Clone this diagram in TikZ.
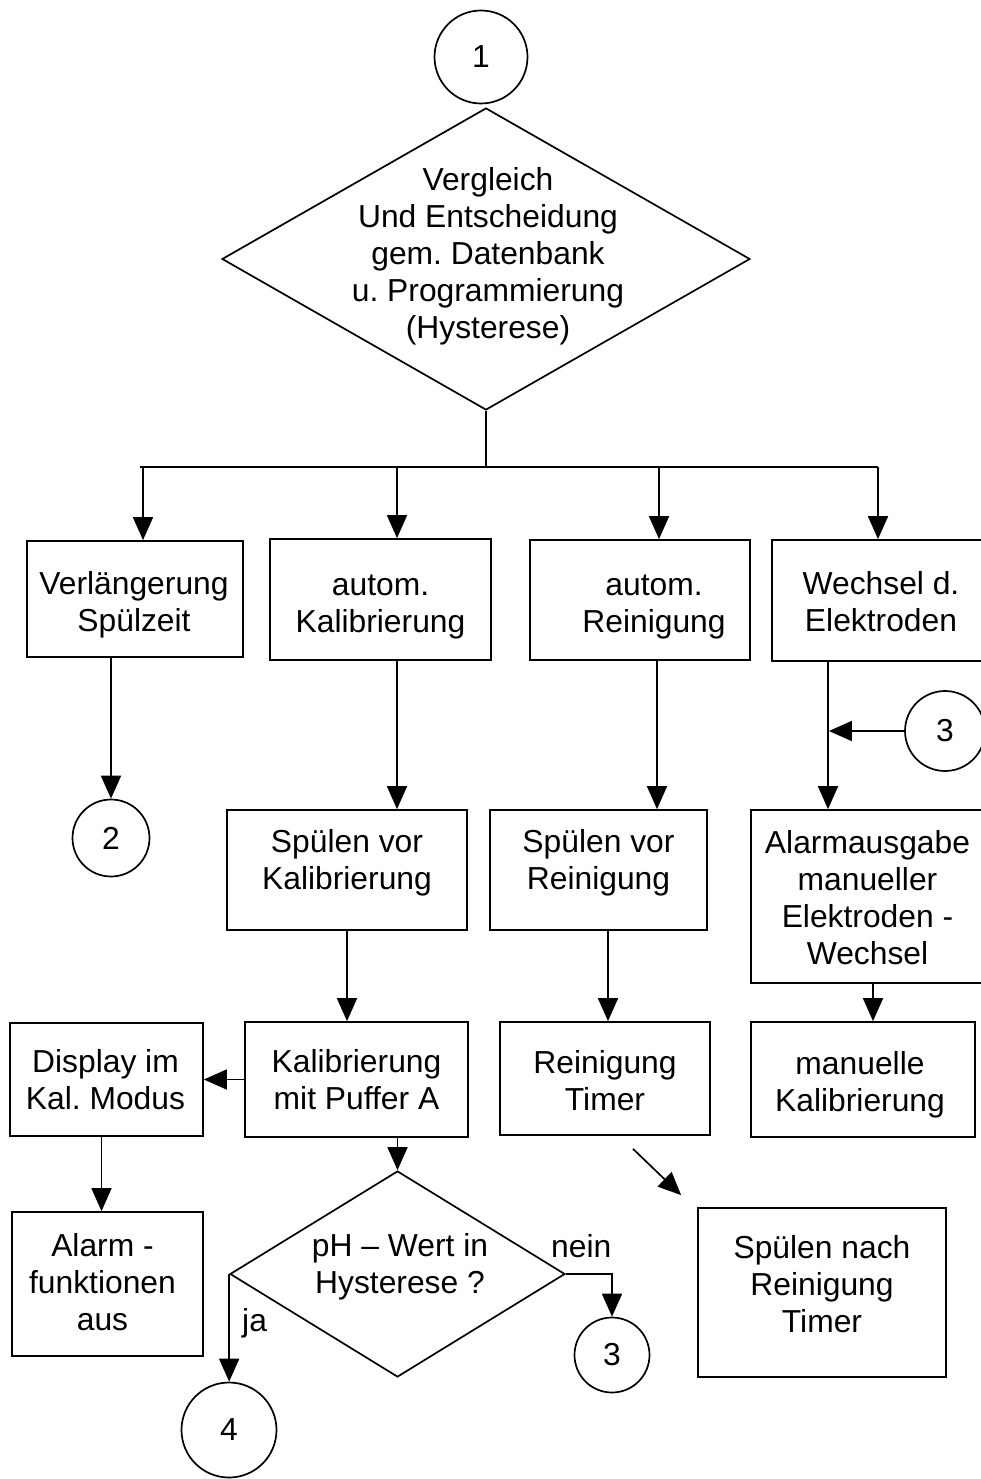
\documentclass[tikz,border=0pt]{standalone}
\usepackage{fontspec}
\setmainfont{Liberation Sans}
\usetikzlibrary{arrows.meta,shapes.geometric}
\frenchspacing
\newcommand\dfont{\fontsize{31.8}{37}\selectfont\frenchspacing}
% name, width, height, x, y, text dx, text dy, text
\newcommand\mybox[8]{%
  \node[box,minimum width=#2pt,minimum height=#3pt] (#1) at (#4,#5) {};
  \node[txt] (#1t) at ([xshift=#6pt,yshift=#7pt]#1.center) {#8};}
\begin{document}
\begin{tikzpicture}[x=1pt,y=-1pt,
  box/.style={draw,line width=1.7pt,inner sep=0pt},
  conn/.style={draw,circle,line width=1.7pt,inner sep=0pt,font=\dfont},
  dia/.style={draw,diamond,line width=1.7pt,inner sep=0pt},
  txt/.style={align=center,font=\dfont,inner sep=0pt},
  arr/.style={line width=1.7pt,-{Triangle[length=23pt,width=20pt]}},
  ln/.style={line width=1.7pt}]
\useasboundingbox (0,0) rectangle (981,1479);
\clip (0,0) rectangle (981,1479);
\fill[white] (0,0) rectangle (981,1479);

% top
\node[conn,minimum size=93pt] (c1) at (481,57) {1};
\node[dia,minimum width=528pt,minimum height=302pt] (D0) at (486,259) {};
\node[txt] (D0t) at (488,256) {Vergleich\\Und Entscheidung\\gem. Datenbank\\u. Programmierung\\(Hysterese)};

% first row
\mybox{A}{216}{116}{135}{599}{-1}{-6}{Verlängerung\\Spülzeit}
\mybox{B}{221}{121}{380.5}{599.5}{0}{-8}{autom.\\Kalibrierung}
\mybox{C}{220}{120}{640}{600}{14}{-7}{autom.\\Reinigung}
\mybox{D}{218}{121}{881}{600.5}{0}{-1.5}{Wechsel d.\\Elektroden}

% bus
\coordinate (bus) at (486,467);
\coordinate (b0) at (140,467);
\coordinate (b1) at (143,467);
\coordinate (b2) at (397,467);
\coordinate (b3) at (659,467);
\coordinate (b4) at (878,467);
\draw[ln] (D0.south) -- (bus);
\draw[ln] (b0) -- (b4);
\draw[arr] (b1) -- (b1 |- A.north);
\draw[arr] (b2) -- (b2 |- B.north);
\draw[arr] (b3) -- (b3 |- C.north);
\draw[arr] (b4) -- (b4 |- D.north);

% second row
\node[conn,minimum size=77pt] (c2) at (111,838) {2};
\mybox{SK}{240}{120}{347}{870}{0}{7}{Spülen vor\\Kalibrierung}
\mybox{SR}{217}{120}{598.5}{870}{0}{7}{Spülen vor\\Reinigung}
\mybox{AL}{235}{173}{868.5}{896.5}{-1}{-1}{Alarmausgabe\\manueller\\Elektroden -\\Wechsel}
\node[conn,minimum size=80pt] (c3a) at (945,731) {3};

\draw[arr] (c2.north |- A.south) -- (c2.north);
\draw[arr] ([xshift=16.5pt]B.south) -- ([xshift=16.5pt]B.south |- SK.north);
\draw[arr] ([xshift=17pt]C.south) -- ([xshift=17pt]C.south |- SR.north);
\draw[arr] ([xshift=-53pt]D.south) -- ([xshift=-53pt]D.south |- AL.north);
\coordinate (m3) at ([xshift=-53pt]D.south |- c3a.west);
\draw[arr] (c3a.west) -- ([xshift=0.9pt]m3);

% third row
\mybox{DI}{193}{113}{106.5}{1079.5}{-1}{0}{Display im\\Kal. Modus}
\mybox{KP}{223}{115}{356.5}{1079.5}{0}{0}{Kalibrierung\\mit Puffer A}
\mybox{RT}{210}{113}{605}{1078.5}{0}{-2.5}{Reinigung\\Timer}
\mybox{MK}{224}{115}{863}{1079.5}{-3}{-5}{manuelle\\Kalibrierung}

\draw[arr] (SK.south) -- (SK.south |- KP.north);
\draw[arr] ([xshift=9.5pt]SR.south) -- ([xshift=9.5pt]SR.south |- RT.north);
\draw[arr] ([xshift=4.5pt]AL.south) -- ([xshift=4.5pt]AL.south |- MK.north);
\draw[arr] (KP.west) -- (KP.west -| DI.east);

% fourth row
\mybox{AF}{191}{144}{107.5}{1284}{-5}{2}{Alarm -\\funktionen\\aus}
\mybox{SN}{248}{169}{822}{1292.5}{0}{8}{Spülen nach\\Reinigung\\Timer}
\node[dia,minimum width=335pt,minimum height=206pt] (PH) at (397.5,1274) {};
\node[txt] (PHt) at (400,1267) {pH – Wert in\\Hysterese ?};
\node[conn,minimum size=75pt] (c3b) at (612,1355) {3};
\node[conn,minimum size=95pt] (c4) at (229,1430) {4};
\node[txt,anchor=base west] (nein) at (551,1257) {nein};
\node[txt,anchor=base west] (ja) at (242,1331) {ja};

\draw[arr] ([xshift=-5pt]DI.south) -- ([xshift=-5pt]DI.south |- AF.north);
\coordinate (dg1) at ([xshift=28pt,yshift=-13pt]RT.south);
\coordinate (dg2) at ([xshift=-16pt,yshift=12pt]SN.north west);
\draw[arr] (dg1) -- (dg2);
\draw[arr] (PH.north |- KP.south) -- (PH.north);
\draw[arr] (PH.west) -- (PH.west |- c4.north);
\draw[arr] (PH.east) -| (c3b.north);
\end{tikzpicture}
\end{document}
